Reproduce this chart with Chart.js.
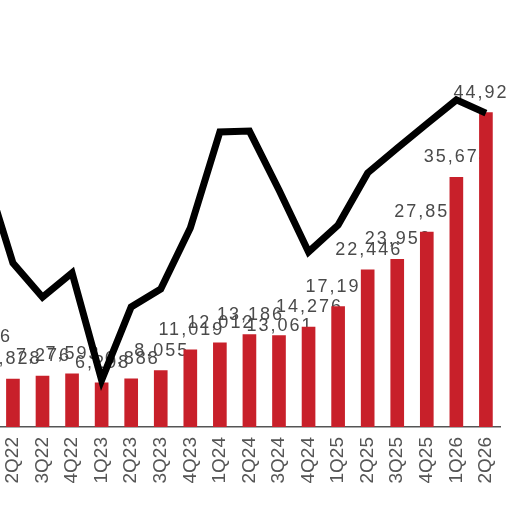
<!DOCTYPE html>
<html>
<head>
<meta charset="utf-8">
<script src="https://cdn.jsdelivr.net/npm/chart.js@4"></script>
<style>
  html, body { margin: 0; padding: 0; background: #fff; overflow: hidden; }
  /* the picture is a crop: the first quarter sits just off the left edge */
  #wrap { position: absolute; left: -40px; top: 0; width: 548px; height: 508px; }
</style>
</head>
<body>
<div id="wrap"><canvas id="chart"></canvas></div>
<script>
const quarters = ["1Q22", "2Q22", "3Q22", "4Q22", "1Q23", "2Q23", "3Q23", "4Q23", "1Q24",
  "2Q24", "3Q24", "4Q24", "1Q25", "2Q25", "3Q25", "4Q25", "1Q26", "2Q26"]
const revenue = [9966, 6828, 7276, 7593, 6298, 6888, 8055, 11019, 12012,
  13186, 13061, 14276, 17197, 22446, 23953, 27851, 35674, 44924]
const ratio = [60.7, 38.4, 30.4, 36.1, 11.0, 28.1, 32.3, 46.6, 69.1,
  69.3, 55.5, 41.0, 47.3, 59.5, 65.3, 71.0, 76.6, 73.5]

// value labels above the bars, drawn under the bars like in the original
const barLabels = {
  id: "barLabels",
  beforeDatasetsDraw(chart) {
    const ctx = chart.ctx
    const meta = chart.getDatasetMeta(1)
    ctx.save()
    ctx.font = "18px 'Liberation Sans', Arial, sans-serif"
    ctx.fillStyle = "#4a4a4a"
    ctx.textAlign = "center"
    ctx.textBaseline = "middle"
    ctx.letterSpacing = "2px"
    meta.data.forEach((bar, i) => {
      const lift = quarters[i] === "3Q24" ? 10 : 20
      ctx.fillText(revenue[i].toLocaleString("en-US"), bar.x + 1, bar.y - lift)
    })
    ctx.restore()
  },
}

new Chart(document.getElementById("chart"), {
  data: {
    labels: quarters,
    datasets: [
      {
        type: "line",
        data: ratio,
        yAxisID: "y1",
        borderColor: "#000",
        borderWidth: 7,
        pointRadius: 0,
        tension: 0,
        order: 0,
      },
      {
        type: "bar",
        data: revenue,
        yAxisID: "y",
        backgroundColor: "#c8202a",
        barThickness: 13,
        order: 1,
      },
    ],
  },
  options: {
    responsive: true,
    maintainAspectRatio: false,
    animation: false,
    layout: { padding: { left: 8.6, right: 7.3, top: 0, bottom: 0 } },
    plugins: { legend: { display: false }, tooltip: { enabled: false } },
    scales: {
      x: {
        offset: true,
        grid: { display: false, drawTicks: false },
        border: { display: true, color: "#555", width: 1.5 },
        ticks: {
          color: "#555",
          padding: 10,
          minRotation: 90,
          maxRotation: 90,
          autoSkip: false,
          font: { family: "'Liberation Sans', Arial, sans-serif", size: 19 },
        },
        afterFit(scale) {
          scale.height = 81
          scale.paddingLeft = 0
          scale.paddingRight = 0
        },
      },
      y: { display: false, min: 0, max: 61000 },
      y1: { display: false, min: 0, max: 100 },
    },
  },
  plugins: [barLabels],
})
</script>
</body>
</html>
